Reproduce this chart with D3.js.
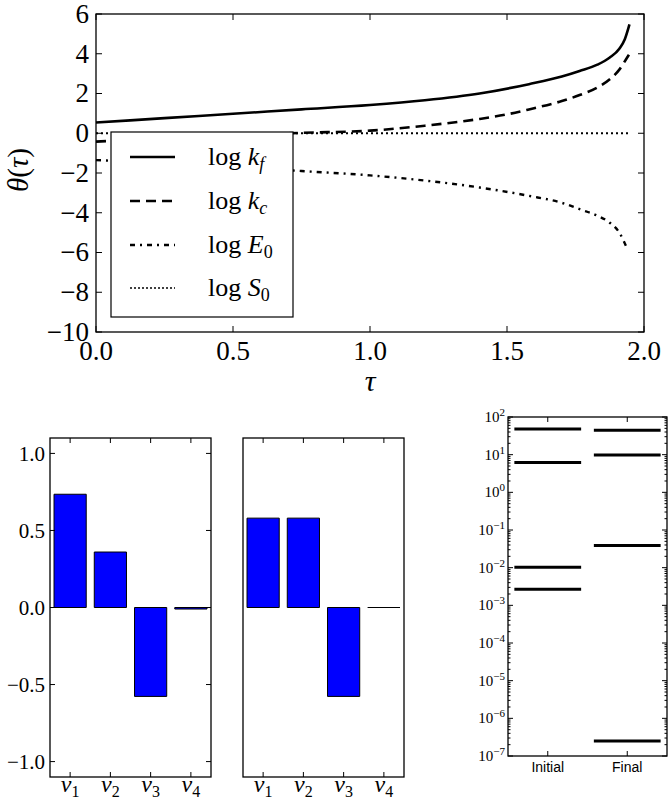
<!DOCTYPE html>
<html><head><meta charset="utf-8">
<script src="https://cdn.jsdelivr.net/npm/d3@7"></script>
<style>
body{margin:0;background:#fff}
svg{display:block}
text{font-family:"Liberation Serif";}
text.sans{font-family:"Liberation Sans";}
</style>
</head><body>
<script>
// ---------- data ----------
const tauKf = [0, 0.25, 0.5, 0.75, 1.0, 1.2, 1.4, 1.58, 1.7, 1.765, 1.83, 1.874, 1.91, 1.93, 1.947];
const logKf = [0.54, 0.76, 0.98, 1.2, 1.42, 1.66, 2.0, 2.47, 2.85, 3.13, 3.45, 3.8, 4.25, 4.73, 5.48];
const tauKc = [0, 0.25, 0.5, 0.75, 1.0, 1.2, 1.4, 1.5, 1.58, 1.7, 1.765, 1.83, 1.874, 1.91, 1.938, 1.945];
const logKc = [-0.42, -0.27, -0.12, 0.02, 0.13, 0.38, 0.72, 0.95, 1.2, 1.62, 1.92, 2.3, 2.7, 3.2, 3.8, 3.95];
const tauE0 = [0, 0.25, 0.5, 0.75, 1.0, 1.2, 1.4, 1.58, 1.7, 1.765, 1.83, 1.874, 1.91, 1.94];
const logE0 = [-1.35, -1.5, -1.68, -1.9, -2.12, -2.38, -2.73, -3.15, -3.5, -3.82, -4.15, -4.49, -5.0, -5.85];
const tauS0 = [0, 1.945];
const logS0 = [0, 0];
const xTicksTop = [0, 0.5, 1.0, 1.5, 2.0];
const yTicksTop = [6, 4, 2, 0, -2, -4, -6, -8, -10];

const barCats = ["1", "2", "3", "4"];
const barsLeft = [0.735, 0.36, -0.577, -0.01];
const barsRight = [0.58, 0.58, -0.577, 0.0];
const barYTicks = [1.0, 0.5, 0.0, -0.5, -1.0];

const stageCats = ["Initial", "Final"];
const levelsInitial = [48.2, 6.2, 0.0102, 0.00266];
const levelsFinal = [44.6, 9.8, 0.039, 2.5e-7];
const logExps = [2, 1, 0, -1, -2, -3, -4, -5, -6, -7];

// ---------- setup ----------
const W = 670, H = 799;
const svg = d3.select("body").append("svg").attr("width", W).attr("height", H)
  .attr("font-family", "Liberation Serif");
const fmt = v => (v < 0 ? "\u2212" : "") + Math.abs(v).toFixed(1);

// ---------- top chart ----------
const T = {l: 96, r: 644, t: 14, b: 332};
const x = d3.scaleLinear().domain([0, 2]).range([T.l, T.r]);
const y = d3.scaleLinear().domain([-10, 6]).range([T.b, T.t]);
const topG = svg.append("g");

const line = d3.line().x(d => x(d[0])).y(d => y(d[1])).curve(d3.curveMonotoneX);
const series = [
  {t: tauKf, v: logKf, dash: null, w: 2.6},
  {t: tauKc, v: logKc, dash: "10,6", w: 2.6},
  {t: tauE0, v: logE0, dash: "5,5,2,5", w: 2.4},
  {t: tauS0, v: logS0, dash: "2,3", w: 2}
];
series.forEach(s => {
  topG.append("path").attr("d", line(s.t.map((t, i) => [t, s.v[i]])))
    .attr("fill", "none").attr("stroke", "#000").attr("stroke-width", s.w)
    .attr("stroke-dasharray", s.dash);
});

(function () {
  const g = topG.append("g").attr("stroke", "#000").attr("stroke-width", 1);
  xTicksTop.forEach(v => {
    g.append("line").attr("x1", x(v)).attr("x2", x(v)).attr("y1", T.b).attr("y2", T.b - 6);
    g.append("line").attr("x1", x(v)).attr("x2", x(v)).attr("y1", T.t).attr("y2", T.t + 6);
  });
  yTicksTop.forEach(v => {
    g.append("line").attr("x1", T.l).attr("x2", T.l + 6).attr("y1", y(v)).attr("y2", y(v));
    g.append("line").attr("x1", T.r).attr("x2", T.r - 6).attr("y1", y(v)).attr("y2", y(v));
  });
})();
topG.append("rect").attr("x", T.l).attr("y", T.t).attr("width", T.r - T.l).attr("height", T.b - T.t)
  .attr("fill", "none").attr("stroke", "#000").attr("stroke-width", 1.3);

topG.selectAll("text.yt").data(yTicksTop).enter().append("text").attr("class", "yt")
  .attr("x", 89).attr("y", d => y(d)).attr("dy", "0.33em").attr("text-anchor", "end")
  .attr("font-size", 27).text(d => (d < 0 ? "\u2212" : "") + Math.abs(d));
topG.selectAll("text.xt").data(xTicksTop).enter().append("text").attr("class", "xt")
  .attr("x", d => x(d)).attr("y", 360).attr("text-anchor", "middle")
  .attr("font-size", 27).text(d => d.toFixed(1));

// axis labels
topG.append("text").attr("x", x(1)).attr("y", 391).attr("text-anchor", "middle")
  .attr("font-size", 30).attr("font-style", "italic").text("\u03c4");
const yl = topG.append("text").attr("transform", "translate(28," + ((T.t + T.b) / 2 - 3) + ") rotate(-90)")
  .attr("text-anchor", "middle").attr("font-size", 29);
yl.append("tspan").attr("font-style", "italic").text("\u03b8");
yl.append("tspan").text("(");
yl.append("tspan").attr("font-style", "italic").text("\u03c4");
yl.append("tspan").text(")");

// legend
const L = topG.append("g");
L.append("rect").attr("x", 111).attr("y", 132).attr("width", 182).attr("height", 185)
  .attr("fill", "#fff").attr("stroke", "#000").attr("stroke-width", 1.2);
const legendItems = [
  {dash: null, w: 2.6, main: "k", sub: "f", subItalic: true},
  {dash: "10,6", w: 2.6, main: "k", sub: "c", subItalic: true},
  {dash: "5,5,2,5", w: 2.4, main: "E", sub: "0", subItalic: false},
  {dash: "2,2", w: 1.4, main: "S", sub: "0", subItalic: false}
];
const rowY = [157, 201, 245, 288];
legendItems.forEach((it, i) => {
  L.append("line").attr("x1", 130).attr("x2", 175).attr("y1", rowY[i]).attr("y2", rowY[i])
    .attr("stroke", "#000").attr("stroke-width", it.w).attr("stroke-dasharray", it.dash);
  const t = L.append("text").attr("x", 208).attr("y", rowY[i] + 8).attr("font-size", 26);
  t.append("tspan").text("log ");
  t.append("tspan").attr("font-style", "italic").text(it.main);
  t.append("tspan").attr("font-size", 18).attr("dy", 5).attr("font-style", it.subItalic ? "italic" : "normal").text(it.sub);
});

// ---------- bar charts ----------
function barChart(left, right, values, showY) {
  const B = {l: left, r: right, t: 438, b: 777};
  const bx = d3.scaleLinear().domain([-0.5, 3.5]).range([B.l, B.r]);
  const by = d3.scaleLinear().domain([-1.1, 1.1]).range([B.b, B.t]);
  const g = svg.append("g");
  values.forEach((v, i) => {
    const x0 = bx(i - 0.4), x1 = bx(i + 0.4);
    const y0 = by(0), y1 = by(v);
    const p = d3.path();
    p.moveTo(x0, y0); p.lineTo(x1, y0); p.lineTo(x1, y1); p.lineTo(x0, y1); p.closePath();
    g.append("path").attr("d", p.toString()).attr("fill", "#0000ff")
      .attr("stroke", "#000").attr("stroke-width", 1);
  });
  const tk = g.append("g").attr("stroke", "#000").attr("stroke-width", 1);
  barCats.forEach((c, i) => {
    tk.append("line").attr("x1", bx(i)).attr("x2", bx(i)).attr("y1", B.b).attr("y2", B.b - 5);
    tk.append("line").attr("x1", bx(i)).attr("x2", bx(i)).attr("y1", B.t).attr("y2", B.t + 5);
  });
  if (showY) {
    barYTicks.forEach(v => {
      tk.append("line").attr("x1", B.l).attr("x2", B.l + 5).attr("y1", by(v)).attr("y2", by(v));
      tk.append("line").attr("x1", B.r).attr("x2", B.r - 5).attr("y1", by(v)).attr("y2", by(v));
    });
    g.selectAll("text.yt").data(barYTicks).enter().append("text").attr("class", "yt")
      .attr("x", 45).attr("y", d => by(d)).attr("dy", "0.34em").attr("text-anchor", "end")
      .attr("font-size", 21).text(fmt);
  }
  g.append("rect").attr("x", B.l).attr("y", B.t).attr("width", B.r - B.l).attr("height", B.b - B.t)
    .attr("fill", "none").attr("stroke", "#000").attr("stroke-width", 1.3);
  barCats.forEach((c, i) => {
    const t = g.append("text").attr("x", bx(i)).attr("y", 792).attr("text-anchor", "middle")
      .attr("font-size", 24);
    t.append("tspan").attr("font-style", "italic").text("v");
    t.append("tspan").attr("font-size", 16).attr("dy", 5).text(c);
  });
}
barChart(50, 211, barsLeft, true);
barChart(243, 404, barsRight, false);

// ---------- log chart ----------
const R = {l: 508, r: 667, t: 417, b: 756};
const lx = d3.scaleLinear().domain([-0.5, 1.5]).range([R.l, R.r]);
const ly = d3.scaleLog().domain([1e-7, 1e2]).range([R.b, R.t]);
const lg = svg.append("g");
[levelsInitial, levelsFinal].forEach((arr, i) => {
  arr.forEach(v => {
    lg.append("line").attr("x1", lx(i - 0.42)).attr("x2", lx(i + 0.42))
      .attr("y1", ly(v)).attr("y2", ly(v)).attr("stroke", "#000").attr("stroke-width", 3);
  });
});
const ltk = lg.append("g").attr("stroke", "#000").attr("stroke-width", 1);
logExps.forEach(e => {
  const v = Math.pow(10, e);
  ltk.append("line").attr("x1", R.l).attr("x2", R.l + 5).attr("y1", ly(v)).attr("y2", ly(v));
  ltk.append("line").attr("x1", R.r).attr("x2", R.r - 5).attr("y1", ly(v)).attr("y2", ly(v));
  if (e < 2) {
    for (let m = 2; m <= 9; m++) {
      const mv = m * v;
      ltk.append("line").attr("x1", R.l).attr("x2", R.l + 2.5).attr("y1", ly(mv)).attr("y2", ly(mv));
      ltk.append("line").attr("x1", R.r).attr("x2", R.r - 2.5).attr("y1", ly(mv)).attr("y2", ly(mv));
    }
  }
  const t = lg.append("text").attr("x", 505).attr("y", ly(v) + 5).attr("text-anchor", "end")
    .attr("font-size", 15);
  t.append("tspan").text("10");
  t.append("tspan").attr("font-size", 11).attr("dy", -6).text((e < 0 ? "\u2212" : "") + Math.abs(e));
});
stageCats.forEach((c, i) => {
  ltk.append("line").attr("x1", lx(i)).attr("x2", lx(i)).attr("y1", R.b).attr("y2", R.b - 5);
  ltk.append("line").attr("x1", lx(i)).attr("x2", lx(i)).attr("y1", R.t).attr("y2", R.t + 5);
  lg.append("text").attr("class", "sans").attr("x", lx(i)).attr("y", 772).attr("text-anchor", "middle")
    .attr("font-size", 14).text(c);
});
lg.append("rect").attr("x", R.l).attr("y", R.t).attr("width", R.r - R.l).attr("height", R.b - R.t)
  .attr("fill", "none").attr("stroke", "#000").attr("stroke-width", 1.3);
</script>
</body></html>
